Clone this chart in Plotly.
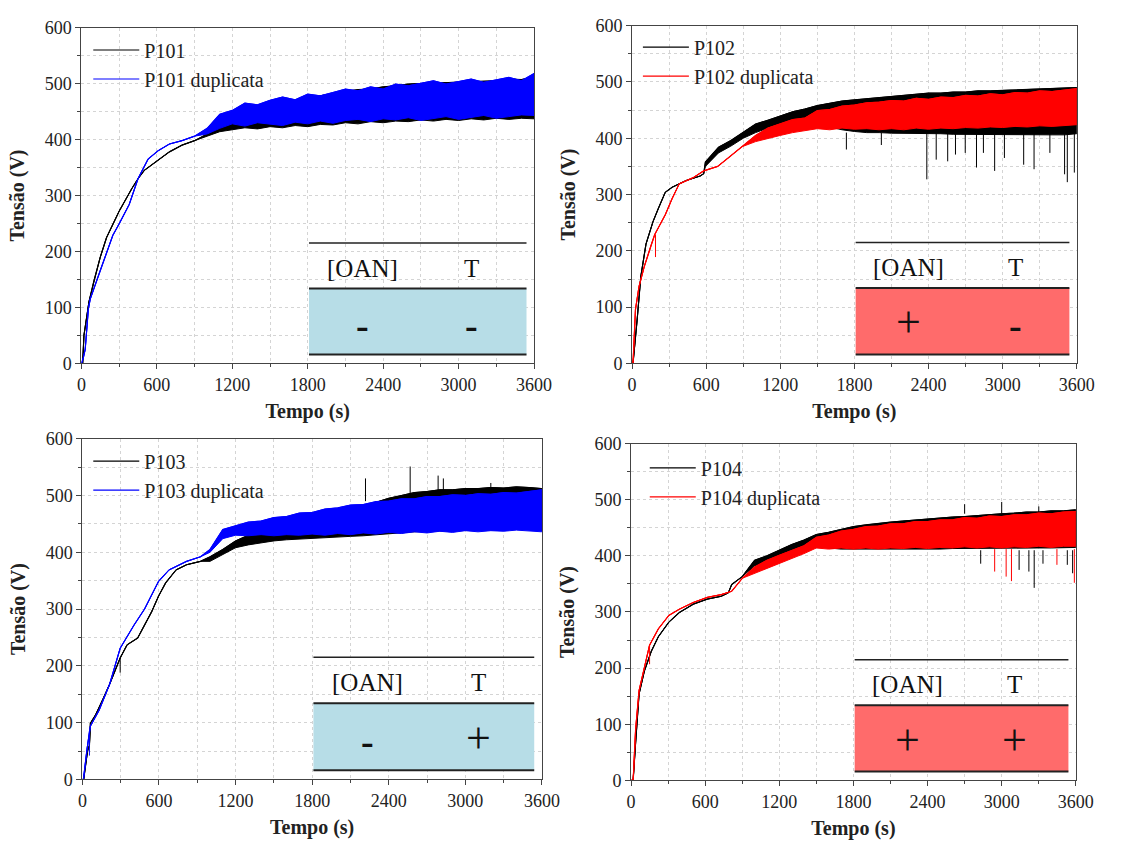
import plotly.graph_objects as go

SERIF = "Liberation Serif"

# ---------------- DATA ----------------
T_BAND = [1000, 1100, 1200, 1300, 1400, 1500, 1600, 1700, 1800, 1900, 2000, 2100, 2200, 2300,
          2400, 2500, 2600, 2700, 2800, 2900, 3000, 3100, 3200, 3300, 3400, 3500, 3600]

# P101 (black) and P101 duplicata (blue)
p101_t = [0, 10, 20, 60, 100, 150, 200, 300, 400, 450, 500, 600, 700, 800, 900]
p101_v = [0, 0, 50, 110, 148, 190, 225, 272, 312, 330, 345, 362, 378, 390, 398]
p101_bt = T_BAND
p101_hi = [410, 420, 432, 445, 452, 460, 466, 470, 476, 478, 482, 486, 489, 490, 494, 496, 499, 500, 501, 502,
           503, 504, 505, 505, 508, 507, 512]
p101_lo = [406, 414, 418, 421, 419, 423, 421, 425, 423, 427, 426, 430, 428, 432, 430, 433, 432, 435, 433, 436,
           434, 437, 435, 438, 436, 438, 437]
p101d_t = [0, 15, 30, 55, 70, 150, 250, 300, 380, 450, 530, 610, 700, 800, 900]
p101d_v = [0, 10, 25, 97, 115, 167, 229, 249, 284, 330, 365, 380, 392, 398, 406]
p101d_bt = T_BAND
p101d_hi = [420, 445, 452, 465, 462, 470, 476, 471, 481, 478, 484, 490, 487, 494, 490, 499, 496, 500, 505, 499,
            503, 508, 502, 507, 511, 505, 518]
p101d_lo = [410, 420, 428, 424, 430, 427, 425, 431, 428, 433, 429, 434, 436, 432, 437, 435, 439, 434, 438, 441,
            436, 440, 443, 438, 441, 444, 443]

# P102 (black) and P102 duplicata (red)
p102_t = [0, 8, 42, 71, 113, 170, 212, 269, 325, 439, 552, 580]
p102_v = [0, 0, 79, 154, 212, 252, 275, 304, 313, 325, 333, 337]
p102_bt = [594, 700, 800, 900] + T_BAND
p102_hi = [358, 384, 396, 410,
           425, 432, 440, 447, 452, 458, 462, 466, 468, 470, 472, 474, 476, 478, 480, 480, 482, 482, 484, 484,
           485, 486, 487, 487, 488, 489, 490]
p102_lo = [350, 374, 386, 400,
           410, 418, 425, 428, 428, 424, 420, 415, 412, 410, 410, 409, 409, 408, 408, 408, 407, 407, 407, 407,
           407, 406, 406, 406, 406, 406, 408]
p102_spk_t = [1735, 2018, 2386, 2462, 2555, 2618, 2697, 2788, 2844, 2935, 3014, 3170, 3254, 3382, 3501, 3523, 3580]
p102_spk_from = [410, 410, 410, 410, 410, 410, 410, 410, 410, 410, 410, 410, 410, 410, 410, 410, 410]
p102_spk_to = [380, 388, 327, 362, 359, 371, 374, 348, 374, 342, 365, 353, 345, 374, 336, 322, 339]
p102d_t = [0, 8, 28, 57, 99, 156, 184, 269, 325, 382, 495, 580, 693, 778, 891]
p102d_v = [0, 0, 96, 137, 172, 212, 229, 264, 293, 319, 330, 342, 350, 365, 385]
p102d_bt = T_BAND
p102d_hi = [405, 418, 426, 433, 436, 449, 451, 457, 459, 463, 464, 467, 466, 471, 469, 473, 472, 476, 475, 479,
            477, 481, 480, 484, 483, 486, 488]
p102d_lo = [394, 400, 405, 410, 414, 417, 415, 418, 416, 417, 415, 417, 415, 418, 416, 418, 417, 419, 418, 420,
            419, 421, 420, 422, 421, 423, 424]
p102d_spk_t = [190]
p102d_spk_from = [229]
p102d_spk_to = [189]

# P103 (black) and P103 duplicata (blue)
p103_t = [0, 10, 40, 55, 63, 104, 159, 214, 296, 350, 433, 487, 542, 597, 652, 734, 816, 925]
p103_v = [0, 0, 50, 60, 99, 114, 140, 168, 214, 237, 249, 272, 295, 323, 346, 369, 378, 384]
p103_bt = T_BAND
p103_hi = [392, 405, 420, 430, 437, 443, 448, 452, 456, 460, 465, 470, 478, 488, 495, 500, 505, 507, 510, 510,
           512, 512, 514, 513, 515, 514, 512]
p103_lo = [384, 396, 408, 413, 417, 420, 422, 424, 425, 426, 427, 428, 429, 431, 432, 434, 436, 437, 438, 438,
           439, 439, 440, 440, 440, 440, 438]
p103_spk_t = [296, 2218, 2568, 2787, 2828, 3200]
p103_spk_from = [214, 490, 495, 500, 500, 505]
p103_spk_to = [188, 530, 551, 535, 530, 522]
p103d_t = [0, 8, 36, 45, 55, 63, 131, 214, 296, 405, 487, 597, 679, 816, 925]
p103d_v = [0, 0, 53, 70, 85, 94, 122, 168, 231, 272, 300, 349, 369, 384, 392]
p103d_bt = T_BAND
p103d_hi = [405, 440, 446, 453, 455, 461, 463, 469, 470, 476, 478, 483, 484, 489, 490, 494, 494, 498, 498, 501,
            500, 503, 502, 505, 504, 507, 510]
p103d_lo = [400, 424, 430, 429, 431, 429, 431, 430, 432, 430, 433, 431, 434, 432, 435, 433, 436, 434, 437, 435,
            438, 436, 438, 437, 439, 437, 436]
p103d_spk_t = [55]
p103d_spk_from = [85]
p103d_spk_to = [42]

# P104 (black) and P104 duplicata (red)
p104_t = [0, 17, 37, 65, 108, 164, 221, 306, 391, 504, 617, 730, 787, 815, 900]
p104_v = [0, 0, 67, 154, 195, 230, 256, 282, 299, 314, 323, 328, 334, 349, 363]
p104_bt = T_BAND
p104_hi = [392, 400, 410, 420, 428, 438, 442, 447, 452, 455, 458, 460, 462, 464, 466, 467, 469, 470, 472, 474,
           475, 476, 478, 478, 480, 480, 482]
p104_lo = [382, 390, 398, 406, 412, 416, 414, 412, 411, 411, 411, 411, 412, 412, 412, 412, 413, 413, 413, 413,
           413, 413, 414, 414, 414, 414, 415]
p104_spk_t = [2700, 2830, 3000, 3141, 3220, 3263, 3300, 3334, 3531, 3574]
p104_spk_from = [475, 410, 475, 410, 410, 410, 475, 410, 410, 410]
p104_spk_to = [492, 386, 496, 375, 372, 343, 488, 386, 384, 369]
p104d_t = [0, 17, 37, 65, 108, 150, 221, 306, 391, 504, 617, 730, 815, 900]
p104d_v = [0, 0, 91, 160, 201, 241, 270, 294, 305, 317, 326, 331, 337, 360]
p104d_bt = T_BAND
p104d_hi = [380, 392, 401, 410, 418, 433, 437, 444, 447, 452, 453, 457, 457, 461, 461, 464, 464, 468, 467, 471,
            470, 473, 473, 476, 475, 478, 479]
p104d_lo = [368, 378, 386, 395, 404, 414, 412, 414, 412, 414, 412, 414, 413, 415, 413, 415, 414, 416, 414, 416,
            414, 416, 415, 417, 415, 417, 417]
p104d_spk_t = [150, 2943, 3036, 3079, 3447, 3588]
p104d_spk_from = [241, 412, 412, 412, 412, 412]
p104d_spk_to = [207, 372, 363, 355, 384, 352]

names = [("P101", "P101 duplicata"), ("P102", "P102 duplicata"),
         ("P103", "P103 duplicata"), ("P104", "P104 duplicata")]
signs = [("-", "-"), ("+", "-"), ("-", "+"), ("+", "+")]

# ---------------- STYLE ----------------
BLACK = "#000000"
BLUE = "#0000FF"
RED = "#FF0000"
BOX_BLUE = "#B7DDE7"
BOX_RED = "#FF6B6B"
GRID = "#D4D4D4"
AXIS = "#444444"


def S(t, v, bt, hi, lo, st=(), sf=(), sto=()):
    return dict(t=t, v=v, bt=bt, hi=hi, lo=lo, st=list(st), sf=list(sf), sto=list(sto))


series = [
    (S(p101_t, p101_v, p101_bt, p101_hi, p101_lo),
     S(p101d_t, p101d_v, p101d_bt, p101d_hi, p101d_lo), BLUE, BOX_BLUE),
    (S(p102_t, p102_v, p102_bt, p102_hi, p102_lo, p102_spk_t, p102_spk_from, p102_spk_to),
     S(p102d_t, p102d_v, p102d_bt, p102d_hi, p102d_lo, p102d_spk_t, p102d_spk_from, p102d_spk_to),
     RED, BOX_RED),
    (S(p103_t, p103_v, p103_bt, p103_hi, p103_lo, p103_spk_t, p103_spk_from, p103_spk_to),
     S(p103d_t, p103d_v, p103d_bt, p103d_hi, p103d_lo, p103d_spk_t, p103d_spk_from, p103d_spk_to),
     BLUE, BOX_BLUE),
    (S(p104_t, p104_v, p104_bt, p104_hi, p104_lo, p104_spk_t, p104_spk_from, p104_spk_to),
     S(p104d_t, p104d_v, p104d_bt, p104d_hi, p104d_lo, p104d_spk_t, p104d_spk_from, p104d_spk_to),
     RED, BOX_RED),
]

W, H = 1134, 850
# panel pixel boxes (left, right, top, bottom)
boxes = [(78, 540, 18, 362), (640, 1094, 16, 362), (79, 548, 439, 788), (639, 1093, 444, 789)]
legend_px = [(85, 21), (646, 18), (85, 442), (653, 449)]

fig = go.Figure()
layout = dict(width=W, height=H, margin=dict(l=0, r=0, t=0, b=0),
              paper_bgcolor="white", plot_bgcolor="white", shapes=[], annotations=[])

for i, (ref, dup, col, boxcol) in enumerate(series):
    sfx = "" if i == 0 else str(i + 1)
    xa, ya = "x" + sfx, "y" + sfx
    leg = "legend" if i == 0 else "legend" + sfx
    for s, c, nm in ((ref, BLACK, names[i][0]), (dup, col, names[i][1])):
        t = s["t"] + s["bt"]
        hi = s["v"] + s["hi"]
        lo = s["v"] + s["lo"]
        fig.add_trace(go.Scatter(x=t + t[::-1], y=hi + lo[::-1], mode="lines", fill="toself",
                                 fillcolor=c, line=dict(color=c, width=1), showlegend=False,
                                 hoverinfo="skip", xaxis=xa, yaxis=ya))
        fig.add_trace(go.Scatter(x=t, y=hi, mode="lines", name=nm, line=dict(color=c, width=1.2),
                                 legend=leg, xaxis=xa, yaxis=ya))
        if s["st"]:
            sx, sy = [], []
            for tt, a, b in zip(s["st"], s["sf"], s["sto"]):
                sx += [tt, tt, None]
                sy += [a, b, None]
            fig.add_trace(go.Scatter(x=sx, y=sy, mode="lines", line=dict(color=c, width=1),
                                     showlegend=False, hoverinfo="skip", xaxis=xa, yaxis=ya))

    L, R, T, B = boxes[i]
    axis_common = dict(showline=True, linecolor=AXIS, linewidth=1, mirror=True,
                       ticks="outside", ticklen=5, tickcolor=AXIS,
                       showgrid=True, gridcolor=GRID, griddash="dot", gridwidth=1,
                       tickfont=dict(family=SERIF, size=18, color="#222"),
                       zeroline=False)
    layout["xaxis" + sfx] = dict(axis_common, domain=[L / W, R / W], range=[0, 3600], tick0=0, dtick=600,
                                 anchor=ya,
                                 minor=dict(dtick=300, ticks="outside", ticklen=3, showgrid=True,
                                            gridcolor=GRID, griddash="dot"),
                                 title=dict(text="Tempo (s)", standoff=9,
                                            font=dict(family=SERIF, size=20, color="#222", weight="bold")))
    layout["yaxis" + sfx] = dict(axis_common, domain=[1 - B / H, 1 - T / H], range=[0, 600], tick0=0,
                                 dtick=100, anchor=xa,
                                 minor=dict(dtick=50, ticks="outside", ticklen=3, showgrid=True,
                                            gridcolor=GRID, griddash="dot"),
                                 title=dict(text="Tensão (V)", standoff=14,
                                            font=dict(family=SERIF, size=20, color="#222", weight="bold")))
    lx, ly = legend_px[i]
    layout[leg] = dict(x=lx / W, y=1 - ly / H, xanchor="left", yanchor="top", bgcolor="rgba(0,0,0,0)",
                       font=dict(family=SERIF, size=20, color="#222"), tracegroupgap=0, itemwidth=46)

    # inset table
    layout["shapes"] += [
        dict(type="rect", xref=xa, yref=ya, x0=1810, x1=3540, y0=16, y1=134, fillcolor=boxcol,
             line=dict(width=0), layer="above"),
        dict(type="line", xref=xa, yref=ya, x0=1810, x1=3540, y0=215, y1=215,
             line=dict(color="#222", width=1.5)),
        dict(type="line", xref=xa, yref=ya, x0=1810, x1=3540, y0=134, y1=134,
             line=dict(color="#222", width=2)),
        dict(type="line", xref=xa, yref=ya, x0=1810, x1=3540, y0=16, y1=16,
             line=dict(color="#222", width=2)),
    ]
    layout["annotations"] += [
        dict(xref=xa, yref=ya, x=2235, y=170, text="[OAN]", showarrow=False,
             font=dict(family=SERIF, size=25, color="#111")),
        dict(xref=xa, yref=ya, x=3105, y=170, text="T", showarrow=False,
             font=dict(family=SERIF, size=25, color="#111")),
    ]
    for xs, sg in zip((2235, 3105), signs[i]):
        if sg == "+":
            layout["annotations"].append(dict(xref=xa, yref=ya, x=xs, y=72, text="+", showarrow=False,
                                              font=dict(family=SERIF, size=44, color="#111")))
        else:
            layout["annotations"].append(dict(xref=xa, yref=ya, x=xs, y=68, text="<b>-</b>",
                                              showarrow=False,
                                              font=dict(family=SERIF, size=38, color="#111")))

fig.update_layout(**layout)
fig.write_html("out.html")
